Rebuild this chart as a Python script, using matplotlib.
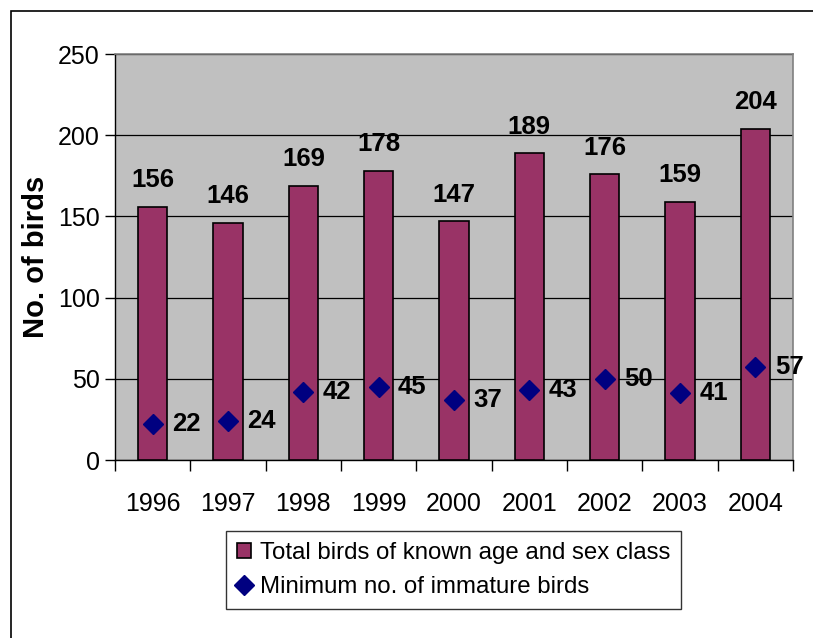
import numpy as np
import matplotlib
matplotlib.use("Agg")
import matplotlib.pyplot as plt
from matplotlib.patches import Rectangle

plt.rcParams['font.family'] = ['Liberation Sans', 'DejaVu Sans']

years = ['1996', '1997', '1998', '1999', '2000', '2001', '2002', '2003', '2004']
total_birds = [156, 146, 169, 178, 147, 189, 176, 159, 204]
immature_birds = [22, 24, 42, 45, 37, 43, 50, 41, 57]

fig = plt.figure(figsize=(8.13, 6.38), dpi=100)
ax = fig.add_axes([115/813, 1-460/638, (793-115)/813, (460-54)/638])
ax.set_facecolor('#C0C0C0')

x = np.arange(len(years))
bars = ax.bar(x, total_birds, width=0.39, color='#993366', edgecolor='black',
              linewidth=1.2, zorder=3, label='Total birds of known age and sex class')
pts, = ax.plot(x, immature_birds, linestyle='none', marker='D', markersize=10,
               color='#000080', zorder=4, label='Minimum no. of immature birds')

# value labels
for xi, v in zip(x, total_birds):
    ax.annotate(str(v), (xi, v), xytext=(0, 14), textcoords='offset points',
                ha='center', va='baseline', fontsize=18.5, fontweight='bold')
for xi, v in zip(x, immature_birds):
    ax.annotate(str(v), (xi, v), xytext=(14, 0), textcoords='offset points',
                ha='left', va='center', fontsize=18.5, fontweight='bold')

ax.set_xlim(-0.5, len(years) - 0.5)
ax.set_ylim(0, 250)
ax.set_yticks(np.arange(0, 251, 50))
ax.yaxis.grid(True, color='black', linewidth=0.9, zorder=1)
ax.set_axisbelow(True)

ax.set_xticks(x)
ax.set_xticklabels(years)
ax.set_xticks(np.arange(-0.5, len(years), 1), minor=True)
ax.tick_params(axis='x', which='major', length=0, pad=23, labelsize=18)
ax.tick_params(axis='x', which='minor', length=8, width=1, direction='out')
ax.tick_params(axis='y', length=7, width=1, direction='out', labelsize=18, pad=4)

for s in ['top', 'right']:
    ax.spines[s].set_color('#808080')
    ax.spines[s].set_linewidth(1.2)
for s in ['left', 'bottom']:
    ax.spines[s].set_color('black')
    ax.spines[s].set_linewidth(1)

ax.set_ylabel('No. of birds', fontsize=21, fontweight='bold', labelpad=6)

leg = fig.legend(handles=[bars, pts], loc='upper left',
                 bbox_to_anchor=(226/813, 1-531/638), fontsize=17.3,
                 frameon=True, fancybox=False, edgecolor='black',
                 handlelength=0.6, handleheight=0.6, handletextpad=0.35,
                 borderpad=0.45, labelspacing=0.5, borderaxespad=0)
leg.get_frame().set_linewidth(1)

# outer chart border
fig.patches.append(Rectangle((11/813, -0.1), 1.2, 1.1 - 11/638,
                             transform=fig.transFigure, fill=False,
                             edgecolor='black', linewidth=1.2))

fig.savefig('out.png', dpi=100)
